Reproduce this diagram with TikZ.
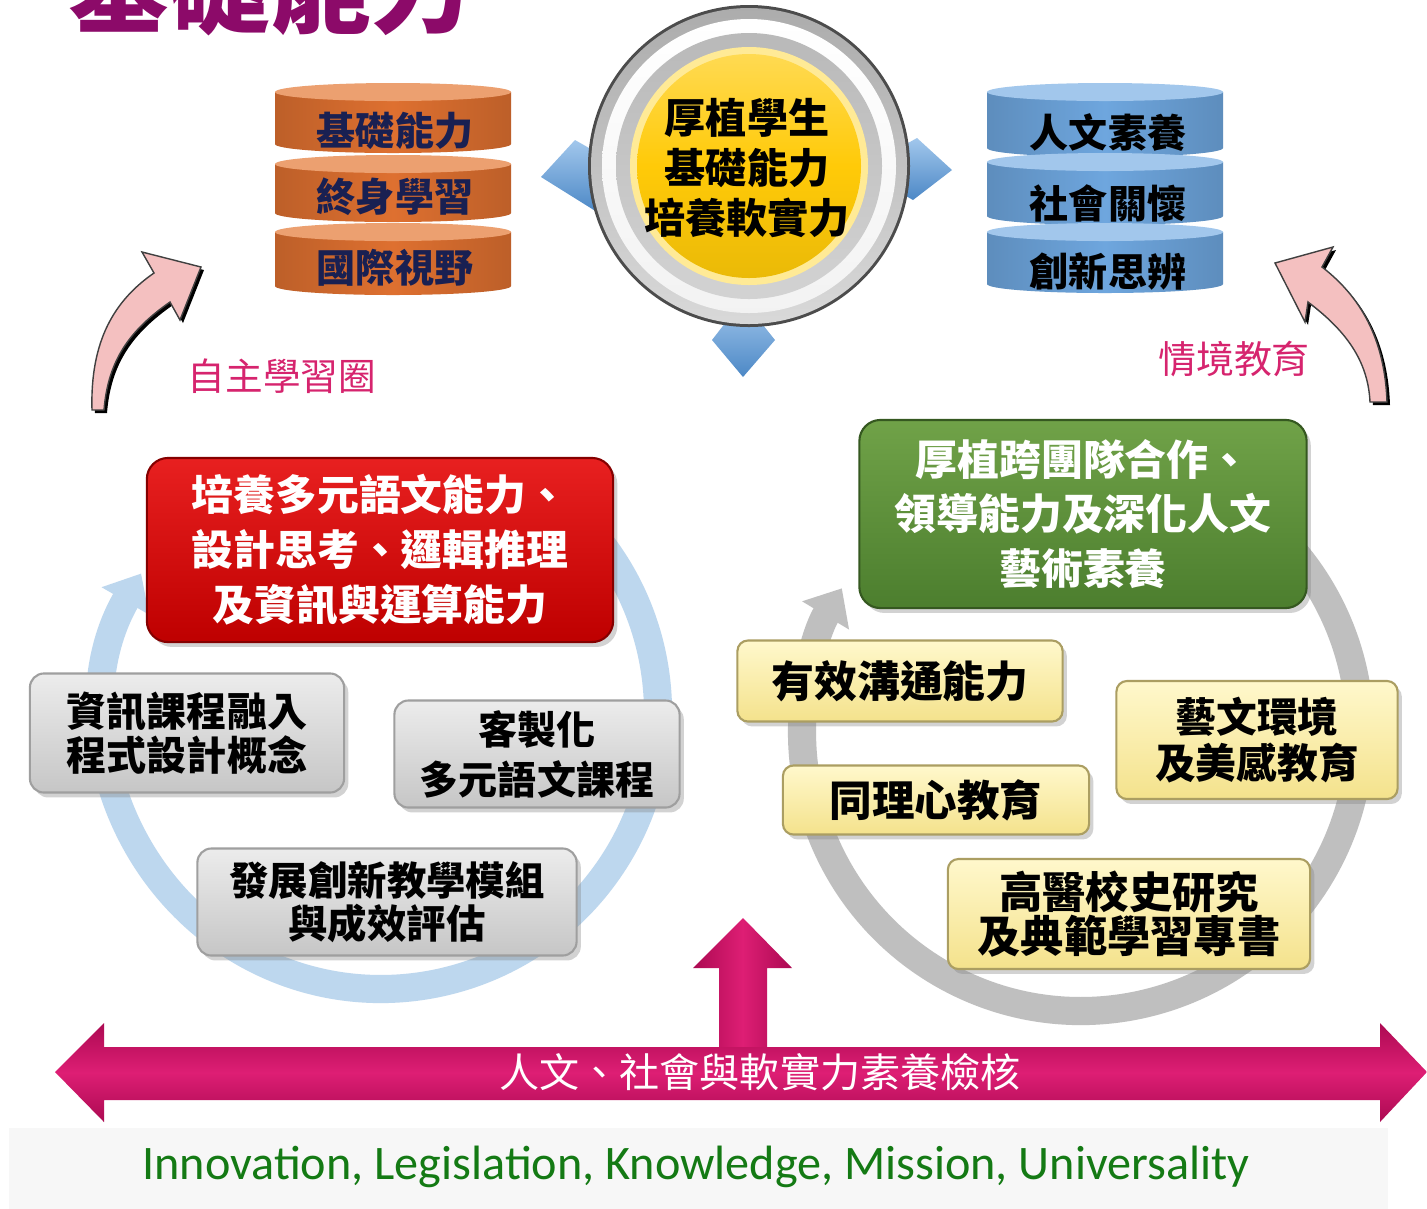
\documentclass[tikz,border=0pt]{standalone}
\usepackage{fontspec}
\setmainfont{Noto Sans CJK TC}
\newfontfamily\mottofont{Carlito}
\usepackage{xcolor}
\usetikzlibrary{positioning, calc, shadows, arrows.meta}
\definecolor{titlepurple}{RGB}{140,10,105}
\definecolor{orangebody}{RGB}{222,112,48}
\definecolor{orangeedge}{RGB}{200,88,30}
\definecolor{orangetop}{RGB}{236,160,112}
\definecolor{bluebody}{RGB}{110,166,222}
\definecolor{blueedge}{RGB}{76,136,198}
\definecolor{bluetop}{RGB}{162,199,236}
\definecolor{navytext}{RGB}{25,32,82}
\definecolor{labelpink}{RGB}{214,36,110}
\definecolor{arrowpink}{RGB}{244,192,192}
\definecolor{coreyellow}{RGB}{255,202,8}
\definecolor{corelight}{RGB}{255,234,150}
\definecolor{loopblue}{RGB}{189,215,238}
\definecolor{loopgray}{RGB}{191,191,191}
\definecolor{redtop}{RGB}{232,32,32}
\definecolor{redbot}{RGB}{190,0,0}
\definecolor{greentop}{RGB}{112,162,72}
\definecolor{greenbot}{RGB}{76,126,46}
\definecolor{graytop}{RGB}{236,236,236}
\definecolor{graybot}{RGB}{198,198,198}
\definecolor{yellowtop}{RGB}{255,248,204}
\definecolor{yellowbot}{RGB}{244,226,140}
\definecolor{checkpink}{RGB}{222,30,116}
\definecolor{checkdark}{RGB}{172,10,82}
\definecolor{mottogreen}{RGB}{20,122,20}
\definecolor{bandgray}{RGB}{247,247,247}

%% one slice of a stacked cylinder: x, top y, bottom y, body, lid
\newcommand{\disc}[5]{%
  \shade[left color=#4!85!black, right color=#4!85!black, middle color=#4]
    (#1-118,#2) -- (#1-118,#3) arc[start angle=180, end angle=0, x radius=118, y radius=9] -- (#1+118,#2) -- cycle;
  \fill[#5] (#1,#2) ellipse[x radius=118, y radius=9];}

\begin{document}
\begin{tikzpicture}[x=0.01cm, y=-0.01cm,
    every node/.style={inner sep=0pt},
    cjk/.style 2 args={font=\bfseries\fontsize{#1}{#2}\selectfont},
    box/.style={rounded corners=4pt, align=center, line width=0.6pt,
        drop shadow={shadow xshift=1.2pt, shadow yshift=-1.4pt, opacity=0.35}},
    redbox/.style={box, rounded corners=6pt, draw=redbot!70!black, top color=redtop, bottom color=redbot, text=white},
    greenbox/.style={box, rounded corners=6pt, draw=greenbot!70!black, top color=greentop, bottom color=greenbot, text=white},
    graybox/.style={box, draw=gray!75, top color=graytop, bottom color=graybot},
    yellowbox/.style={box, rounded corners=3pt, draw=yellowbot!70!black, top color=yellowtop, bottom color=yellowbot},
    looparc/.style={line width=8pt, -{Triangle[width=15pt,length=9pt]}},
    bentarrow/.style={fill=arrowpink, draw=black!75, line width=0.4pt}]
    \useasboundingbox (0,0) rectangle (1427,1208);
    \clip (0,0) rectangle (1427,1208);
    \fill[white] (0,0) rectangle (1427,1208);

    %% title, cut by the top edge
    \node[cjk={28.7pt}{30pt}, text=titlepurple, anchor=base] (title) at (270,25) {基礎能力};

    %% the two stacks
    \disc{393}{92}{144}{orangebody}{orangetop}
    \disc{393}{164}{213}{orangebody}{orangetop}
    \disc{393}{232}{286}{orangebody}{orangetop}
    \disc{1105}{92}{148}{bluebody}{bluetop}
    \disc{1105}{162}{216}{bluebody}{bluetop}
    \disc{1105}{232}{284}{bluebody}{bluetop}
    \node[cjk={11.1pt}{12pt}, text=navytext] (base1) at (395,131) {基礎能力};
    \node[cjk={11.1pt}{12pt}, text=navytext] (base2) at (395,197) {終身學習};
    \node[cjk={11.1pt}{12pt}, text=navytext] (base3) at (395,268) {國際視野};
    \node[cjk={11.1pt}{12pt}] (soft1) at (1108,133) {人文素養};
    \node[cjk={11.1pt}{12pt}] (soft2) at (1108,203) {社會關懷};
    \node[cjk={11.1pt}{12pt}] (soft3) at (1108,271) {創新思辨};

    %% centre badge
    \shade[top color=bluetop, bottom color=blueedge] (541,177) -- (575,140) -- (640,177) -- (597,212) -- cycle;
    \shade[top color=bluetop, bottom color=blueedge] (952,170) -- (917,138) -- (860,170) -- (913,200) -- cycle;
    \shade[top color=bluetop, bottom color=blueedge] (743,377) -- (712,340) -- (743,300) -- (775,340) -- cycle;
    \fill[black!70] (749,166) circle[radius=161];
    \shade[top color=gray!65, bottom color=gray!30] (749,166) circle[radius=158];
    \shade[top color=white, bottom color=gray!10] (749,166) circle[radius=147];
    \shade[top color=gray!55, bottom color=gray!35] (749,166) circle[radius=133];
    \fill[corelight] (749,166) circle[radius=119];
    \shade[top color=coreyellow!70!white, bottom color=coreyellow!92!black, middle color=coreyellow] (749,166) circle[radius=112];
    \node[cjk={11.7pt}{14.2pt}, align=center] (core) at (747,168) {厚植學生\\基礎能力\\培養軟實力};

    %% bent arrows and their labels
    \fill[black, shift={(3,3)}] (92,410) .. controls (90,340) and (115,300) .. (154,273) -- (142,252) -- (201,267) -- (180,320) -- (170,302) .. controls (130,330) and (108,360) .. (104,410) -- cycle;
    \filldraw[bentarrow] (92,410) .. controls (90,340) and (115,300) .. (154,273) -- (142,252) -- (201,267) -- (180,320) -- (170,302) .. controls (130,330) and (108,360) .. (104,410) -- cycle;
    \fill[black, shift={(3,3)}] (1387,402) .. controls (1385,345) and (1365,300) .. (1322,267) -- (1333,247) -- (1275,263) -- (1305,322) -- (1308,302) .. controls (1345,330) and (1368,360) .. (1370,402) -- cycle;
    \filldraw[bentarrow] (1387,402) .. controls (1385,345) and (1365,300) .. (1322,267) -- (1333,247) -- (1275,263) -- (1305,322) -- (1308,302) .. controls (1345,330) and (1368,360) .. (1370,402) -- cycle;
    \node[font=\fontsize{10.7pt}{12pt}\selectfont, text=labelpink] (self) at (282,376) {自主學習圈};
    \node[font=\fontsize{10.8pt}{12pt}\selectfont, text=labelpink] (context) at (1234,359) {情境教育};

    %% the two loops
    \draw[looparc, loopblue] (381,712) ++(-55:277) arc[start angle=-55, end angle=210, radius=277];
    \draw[looparc, loopgray] (1081,732) ++(-60:279) arc[start angle=-60, end angle=211, radius=279];

    %% left loop
    \node[redbox, cjk={11.9pt}{15.6pt}, minimum width=4.66cm, minimum height=1.84cm] (red) at (380,550) {培養多元語文能力、\\設計思考、邏輯推理\\及資訊與運算能力};
    \node[graybox, cjk={11.4pt}{12.5pt}, minimum width=3.14cm, minimum height=1.19cm] (info) at (187,733) {資訊課程融入\\程式設計概念};
    \node[graybox, cjk={11.1pt}{14.2pt}, minimum width=2.85cm, minimum height=1.07cm] (lang) at (537,754) {客製化\\多元語文課程};
    \node[graybox, cjk={11.2pt}{12pt}, minimum width=3.79cm, minimum height=1.07cm] (module) at (387,902) {發展創新教學模組\\與成效評估};

    %% right loop
    \node[greenbox, cjk={11.9pt}{15.4pt}, minimum width=4.47cm, minimum height=1.88cm] (green) at (1083,514) {厚植跨團隊合作、\\領導能力及深化人文\\藝術素養};
    \node[yellowbox, cjk={12.2pt}{13pt}, minimum width=3.25cm, minimum height=0.81cm] (talk) at (900,681) {有效溝通能力};
    \node[yellowbox, cjk={12.1pt}{13pt}, minimum width=3.06cm, minimum height=0.69cm] (empathy) at (936,800) {同理心教育};
    \node[yellowbox, cjk={11.6pt}{13.1pt}, minimum width=2.81cm, minimum height=1.18cm] (arts) at (1257,740) {藝文環境\\及美感教育};
    \node[yellowbox, cjk={12.3pt}{12.5pt}, minimum width=3.62cm, minimum height=1.10cm] (history) at (1129,914) {高醫校史研究\\及典範學習專書};

    %% bottom double arrow
    \shade[left color=checkdark, right color=checkdark, middle color=checkpink] (743,918) -- (792,968) -- (767,968) -- (767,1060) -- (719,1060) -- (719,968) -- (693,968) -- cycle;
    \shade[top color=checkdark, bottom color=checkdark, middle color=checkpink] (55,1072) -- (104,1023) -- (104,1047) -- (1380,1047) -- (1380,1023) -- (1427,1072) -- (1380,1122) -- (1380,1100) -- (104,1100) -- (104,1122) -- cycle;
    \node[font=\fontsize{11.4pt}{12pt}\selectfont, text=white] (check) at (760,1072) {人文、社會與軟實力素養檢核};

    \fill[bandgray] (9,1128) rectangle (1388,1210);
    \node[font=\mottofont\fontsize{13.7pt}{15pt}\selectfont, text=mottogreen] (motto) at (696,1167) {Innovation, Legislation, Knowledge, Mission, Universality};
\end{tikzpicture}
\end{document}
